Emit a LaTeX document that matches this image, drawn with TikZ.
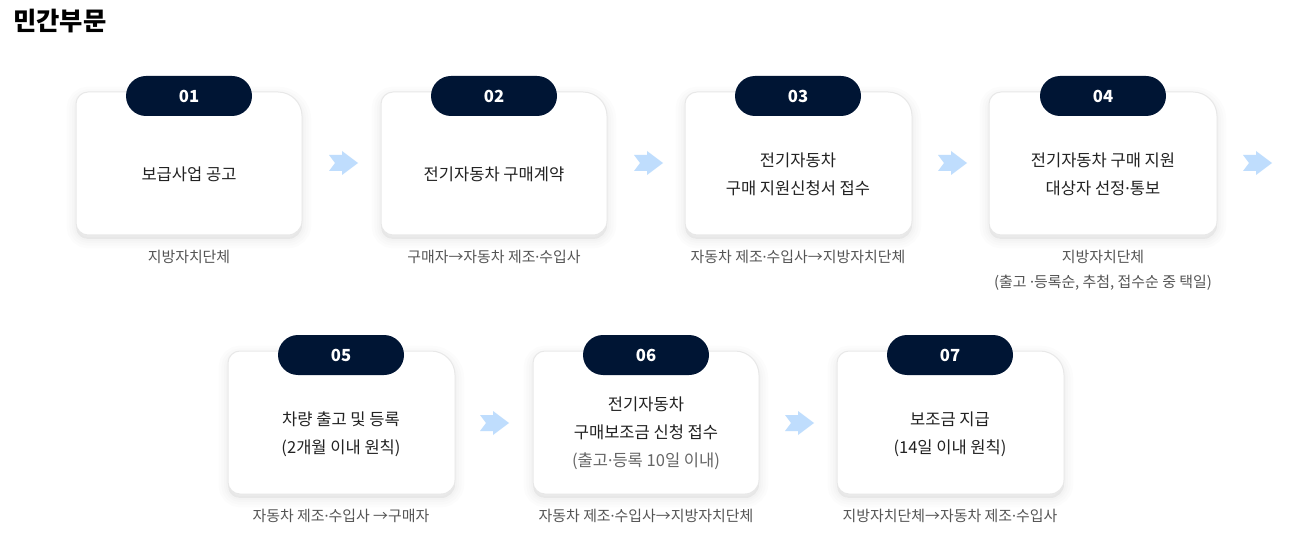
\documentclass[tikz,border=0pt]{standalone}
\usepackage{fontspec}
\setmainfont{Noto Sans CJK KR}
\newfontfamily\dotfont{Noto Sans}
\newcommand\md{{\dotfont ·}}
\definecolor{navy}{HTML}{001534}
\definecolor{arrowc}{HTML}{BFDDFD}
\definecolor{cardline}{HTML}{E8E8E8}
\definecolor{txt}{HTML}{222222}
\definecolor{sub}{HTML}{555555}
\definecolor{subtle}{HTML}{666666}
\tikzset{
  cardbox/.style={draw=cardline, line width=0.75pt, fill=white},
  cardshadow/.style={draw=black, fill=black, draw opacity=0.012, fill opacity=0.012},
  pill/.style={fill=navy, text=white, minimum width=94.5pt, minimum height=30pt,
    rounded corners=15pt, inner sep=0pt, font=\bfseries\fontsize{12.5}{14}\selectfont},
  cardtext/.style={text=txt, align=center, font=\fontsize{12.4}{21}\selectfont, inner sep=0pt},
  labeltext/.style={text=sub, align=center, font=\fontsize{11.2}{18.75}\selectfont, inner sep=0pt},
  flowarrow/.style={fill=arrowc, draw=none}
}
\newcommand\cardpath[4]{(#1,#2+12) arc[start angle=180,end angle=90,radius=9pt]
    -- (#3-24,#2) arc[start angle=90,end angle=0,radius=18pt]
    -- (#3,#4-14) arc[start angle=0,end angle=-90,radius=10.5pt]
    -- (#1+12,#4) arc[start angle=-90,end angle=-180,radius=9pt] -- cycle}
\newcommand\stepcard[4]{%
  \begin{scope}[yshift=-3pt]
    \draw[cardshadow, line width=14pt] \cardpath{#1}{#2}{#3}{#4};
    \draw[cardshadow, line width=10pt] \cardpath{#1}{#2}{#3}{#4};
    \draw[cardshadow, line width=6pt] \cardpath{#1}{#2}{#3}{#4};
    \draw[cardshadow, line width=3pt] \cardpath{#1}{#2}{#3}{#4};
  \end{scope}
  \draw[cardbox] \cardpath{#1}{#2}{#3}{#4};}
\newcommand\flowarrow[3]{%
  \coordinate (#1) at (#2,#3);
  \fill[flowarrow] ([shift={(-14,-8)}]#1) -- ([shift={(-1,-8)}]#1) -- ([shift={(-1,-12)}]#1)
    -- ([shift={(15,0)}]#1) -- ([shift={(-1,12)}]#1) -- ([shift={(-1,8)}]#1)
    -- ([shift={(-14,8)}]#1) -- ([shift={(-8,0)}]#1) -- cycle;}
\begin{document}
\begin{tikzpicture}[x=0.75pt,y=-0.75pt]
\useasboundingbox (0,0) rectangle (1298,552);
\fill[white] (0,0) rectangle (1298,552);
\node[anchor=west, inner sep=0pt, font=\bfseries\fontsize{19}{21}\selectfont, text=black] (title) at (13,21) {민간부문};
% row 1 cards
\stepcard{76}{92}{302}{235}
\stepcard{381}{92}{607}{235}
\stepcard{685}{92}{912}{235}
\stepcard{989}{92}{1217}{235}
% row 2 cards
\stepcard{228}{351}{455}{494}
\stepcard{533}{351}{759}{494}
\stepcard{837}{351}{1064}{494}
% pills
\node[pill] (p1) at (189,96) {01};
\node[pill] (p2) at (494,96) {02};
\node[pill] (p3) at (798,96) {03};
\node[pill] (p4) at (1103,96) {04};
\node[pill] (p5) at (341,355) {05};
\node[pill] (p6) at (646,355) {06};
\node[pill] (p7) at (950,355) {07};
% card texts
\node[cardtext] (t1) at (189,174) {보급사업 공고};
\node[cardtext] (t2) at (494,174) {전기자동차 구매계약};
\node[cardtext] (t3) at (798,174) {전기자동차\\구매 지원신청서 접수};
\node[cardtext] (t4) at (1103,174) {전기자동차 구매 지원\\대상자 선정\md 통보};
\node[cardtext] (t5) at (341,434) {차량 출고 및 등록\\(2개월 이내 원칙)};
\node[cardtext] (t6) at (646,433) {전기자동차\\구매보조금 신청 접수\\\textcolor{subtle}{(출고\md 등록 10일 이내)}};
\node[cardtext] (t7) at (950,434) {보조금 지급\\(14일 이내 원칙)};
% labels
\node[labeltext] (l1) at (189,257) {지방자치단체};
\node[labeltext] (l2) at (494,257) {구매자→자동차 제조\md 수입사};
\node[labeltext] (l3) at (798,257) {자동차 제조\md 수입사→지방자치단체};
\node[labeltext] (l4) at (1103,270) {지방자치단체\\(출고 \md 등록순, 추첨, 접수순 중 택일)};
\node[labeltext] (l5) at (341,516) {자동차 제조\md 수입사 →구매자};
\node[labeltext] (l6) at (646,516) {자동차 제조\md 수입사→지방자치단체};
\node[labeltext] (l7) at (950,516) {지방자치단체→자동차 제조\md 수입사};
% arrows
\flowarrow{a1}{343}{163}
\flowarrow{a2}{648}{163}
\flowarrow{a3}{952}{163}
\flowarrow{a4}{1257}{163}
\flowarrow{a5}{494}{423}
\flowarrow{a6}{799}{423}
\end{tikzpicture}
\end{document}
